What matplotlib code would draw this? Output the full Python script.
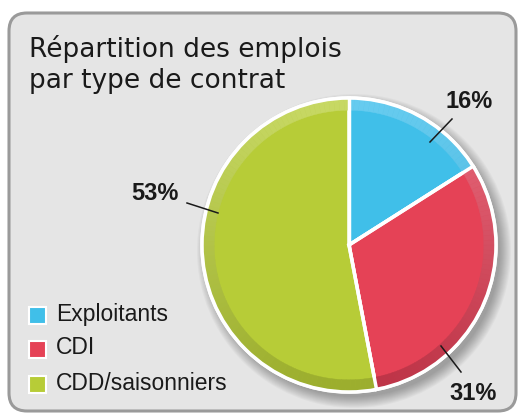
import numpy as np
import matplotlib
matplotlib.use("Agg")
import matplotlib.pyplot as plt
from matplotlib.patches import FancyBboxPatch, Wedge, Circle, Rectangle

# données
categories = ["Exploitants", "CDI", "CDD/saisonniers"]
values = [16, 31, 53]
labels = ["16%", "31%", "53%"]

colors = ["#40bfe9", "#e54256", "#b7cc37"]
rim_light = ["#66cbef", "#ea6a7c", "#c7d863"]
rim_dark = ["#3aa9cf", "#bd3447", "#9cae2e"]

W, H = 520, 416
fig = plt.figure(figsize=(W / 100, H / 100), dpi=100)
ax = fig.add_axes([0, 0, 1, 1])


def Y(y):
    # coordonnées image -> coordonnées axes
    return H - y


# cadre gris arrondi
panel = FancyBboxPatch((9, Y(411)), 507, 398, boxstyle="round,pad=0,rounding_size=18",
                       fc="#e5e5e5", ec="#9a9a9a", lw=2.2, zorder=0)
ax.add_patch(panel)

ax.text(29, Y(57), "Répartition des emplois", fontsize=19, family="DejaVu Sans",
        color="#1a1a1a", va="baseline", ha="left")
ax.text(29, Y(88), "par type de contrat", fontsize=19, family="DejaVu Sans",
        color="#1a1a1a", va="baseline", ha="left")

cx, cy, R = 349, Y(245), 147

# ombre portée
for i in range(12):
    ax.add_patch(Circle((cx + 5, cy - 6), R + 10 - i, fc="black", ec="none",
                        alpha=0.028, zorder=1))

wedges, _ = ax.pie(values, colors=colors, startangle=90, counterclock=False,
                   center=(cx, cy), radius=R, frame=True,
                   wedgeprops=dict(ec="white", lw=2.5))
for w in wedges:
    w.set_zorder(2)

# bord clair en haut, foncé en bas
rim = 11
theta = 90
for v, cl, cd in zip(values, rim_light, rim_dark):
    span = v * 3.6
    n = max(int(span / 2), 1)
    for k in range(n):
        t1 = theta - span * k / n
        t2 = theta - span * (k + 1) / n
        mid = np.deg2rad((t1 + t2) / 2)
        f = (1 - np.sin(mid)) / 2
        c = np.array(matplotlib.colors.to_rgb(cl)) * (1 - f) + np.array(matplotlib.colors.to_rgb(cd)) * f
        ax.add_patch(Wedge((cx, cy), R - 1.2, t2, t1, width=rim, fc=c, ec=c, lw=0.3, zorder=3))
    theta -= span

# séparateurs et contour blanc
theta = 90
for v in values:
    a = np.deg2rad(theta)
    ax.plot([cx, cx + R * np.cos(a)], [cy, cy + R * np.sin(a)], color="white", lw=2.5, zorder=4)
    theta -= v * 3.6
ax.add_patch(Circle((cx, cy), R, fc="none", ec="white", lw=2.5, zorder=4))

# étiquettes
label_pos = [(469, 102), (473, 394), (155, 194)]
line_pts = [((430, 142), (452, 119)), ((441, 346), (461, 372)), ((218, 213), (187, 203))]
for lab, (tx, ty), ((x1, y1), (x2, y2)) in zip(labels, label_pos, line_pts):
    ax.plot([x1, x2], [Y(y1), Y(y2)], color="#1a1a1a", lw=1.1, zorder=5)
    ax.text(tx, Y(ty), lab, fontsize=17, fontweight="bold", family="Liberation Sans",
            color="#1a1a1a", ha="center", va="center", zorder=5)

# légende
leg_y = [315, 349, 384]
for cat, col, ly in zip(categories, colors, leg_y):
    ax.add_patch(Rectangle((29, Y(ly) - 8.5), 17, 17, fc=col, ec="white", lw=1.5, zorder=5))
    ax.text(56, Y(ly) + 1, cat, fontsize=16.5, family="Liberation Sans", color="#1a1a1a",
            va="center", ha="left", zorder=5)

ax.set_xlim(0, W)
ax.set_ylim(0, H)
ax.set_aspect("equal")
ax.axis("off")

fig.savefig("out.png", dpi=100, facecolor="white")
